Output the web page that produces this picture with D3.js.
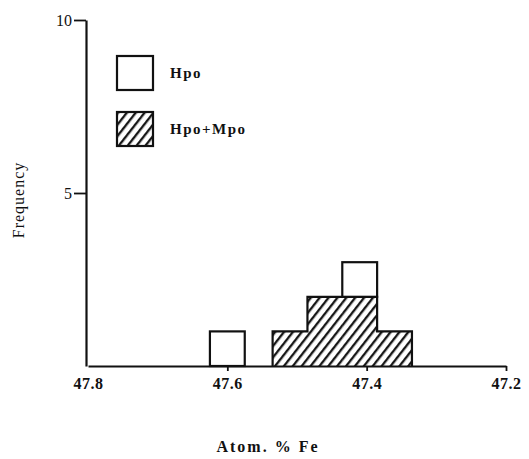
<!DOCTYPE html>
<html>
<head>
<meta charset="utf-8">
<script src="https://cdn.jsdelivr.net/npm/d3@7"></script>
<style>
  body { margin: 0; background: #fff; }
  text { font-family: "Liberation Serif", "DejaVu Serif", serif; fill: #111; }
</style>
</head>
<body>
<div id="chart"></div>
<script>
// bin centres (atom % Fe), bin width 0.05
const binCenters = [47.60, 47.51, 47.46, 47.41, 47.36];
const binWidth = 0.05;
const hpoMpoCounts = [0, 1, 2, 2, 1];
const hpoCounts = [1, 0, 0, 1, 0];
const xTicks = [47.8, 47.6, 47.4, 47.2];
const yTicks = [5, 10];
const legendItems = ["Hpo", "Hpo+Mpo"];

const size = { width: 529, height: 459 };

const svg = d3.select("#chart").append("svg")
  .attr("width", size.width)
  .attr("height", size.height);

const defs = svg.append("defs");
const pat = defs.append("pattern")
  .attr("id", "hatch")
  .attr("patternUnits", "userSpaceOnUse")
  .attr("width", 7)
  .attr("height", 7)
  .attr("patternTransform", "rotate(38)");
pat.append("rect").attr("width", 7).attr("height", 7).attr("fill", "#fff");
pat.append("line")
  .attr("x1", 1.2).attr("y1", 0)
  .attr("x2", 1.2).attr("y2", 7)
  .attr("stroke", "#111")
  .attr("stroke-width", 2.3);

const x = d3.scaleLinear().domain([47.8, 47.2]).range([88, 506]);
const y = d3.scaleLinear().domain([0, 10]).range([366, 20]);

const bins = binCenters.map((c, i) => ({
  lo: c + binWidth / 2,
  hi: c - binWidth / 2,
  mix: hpoMpoCounts[i],
  hpo: hpoCounts[i]
}));

const mixBins = bins.filter((d) => d.mix > 0);

// hatched Hpo+Mpo fill (no inner borders)
svg.append("g")
  .selectAll("rect")
  .data(mixBins)
  .join("rect")
  .attr("x", (d) => x(d.lo))
  .attr("width", (d) => x(d.hi) - x(d.lo) + 0.5)
  .attr("y", (d) => y(d.mix))
  .attr("height", (d) => y(0) - y(d.mix))
  .attr("fill", "url(#hatch)");

// stepped outline around the hatched block
const outlinePts = [[mixBins[0].lo, 0]];
mixBins.forEach((d) => {
  outlinePts.push([d.lo, d.mix]);
  outlinePts.push([d.hi, d.mix]);
});
outlinePts.push([mixBins[mixBins.length - 1].hi, 0]);

svg.append("path")
  .attr("d", d3.line().x((p) => x(p[0])).y((p) => y(p[1]))(outlinePts))
  .attr("fill", "none")
  .attr("stroke", "#111")
  .attr("stroke-width", 2.2)
  .attr("stroke-linejoin", "miter");

// open Hpo bars stacked on top
svg.append("g")
  .selectAll("rect")
  .data(bins.filter((d) => d.hpo > 0))
  .join("rect")
  .attr("x", (d) => x(d.lo))
  .attr("width", (d) => x(d.hi) - x(d.lo))
  .attr("y", (d) => y(d.mix + d.hpo))
  .attr("height", (d) => y(d.mix) - y(d.mix + d.hpo))
  .attr("fill", "#fff")
  .attr("stroke", "#111")
  .attr("stroke-width", 2.2);

// axes
const xAxis = svg.append("g")
  .attr("transform", `translate(0, ${y(0)})`)
  .call(d3.axisBottom(x).tickValues(xTicks).tickSize(5).tickSizeOuter(0).tickFormat(d3.format(".1f")));
xAxis.select(".domain").attr("stroke", "#111").attr("stroke-width", 2.2);
xAxis.selectAll(".tick line").attr("stroke", "#111").attr("stroke-width", 1.8);
xAxis.selectAll(".tick").filter((d) => d === 47.8).select("line").remove();
xAxis.selectAll(".tick text")
  .attr("dy", null)
  .attr("y", 23)
  .style("font-size", "16px")
  .style("font-weight", "bold")
  .style("letter-spacing", "0.5px")
  .attr("fill", "#111");

const yAxis = svg.append("g")
  .attr("transform", `translate(${x(47.8) - 2}, 0)`)
  .call(d3.axisLeft(y).tickValues(yTicks).tickSize(12).tickSizeOuter(0).tickFormat((d) => d));
yAxis.select(".domain").attr("stroke", "#111").attr("stroke-width", 2.2);
yAxis.selectAll(".tick line").attr("stroke", "#111").attr("stroke-width", 1.8);
yAxis.selectAll(".tick text")
  .attr("x", -14)
  .style("font-size", "16px")
  .attr("fill", "#111");

// axis titles
svg.append("text")
  .attr("x", 268)
  .attr("y", 452)
  .attr("text-anchor", "middle")
  .style("font-size", "16px")
  .style("font-weight", "bold")
  .style("letter-spacing", "2px")
  .text("Atom. % Fe");

svg.append("text")
  .attr("transform", "translate(24, 200) rotate(-90)")
  .attr("text-anchor", "middle")
  .style("font-size", "16px")
  .style("letter-spacing", "1px")
  .text("Frequency");

// legend
const legend = svg.append("g")
  .selectAll("g")
  .data(legendItems)
  .join("g")
  .attr("transform", (d, i) => `translate(117, ${56 + i * 56})`);

legend.append("rect")
  .attr("width", 36)
  .attr("height", 34)
  .attr("fill", (d, i) => (i === 0 ? "#fff" : "url(#hatch)"))
  .attr("stroke", "#111")
  .attr("stroke-width", 2.2);

legend.append("text")
  .attr("x", 53)
  .attr("y", 22)
  .style("font-size", "15px")
  .style("font-weight", "bold")
  .style("letter-spacing", "1.5px")
  .text((d) => d);
</script>
</body>
</html>
